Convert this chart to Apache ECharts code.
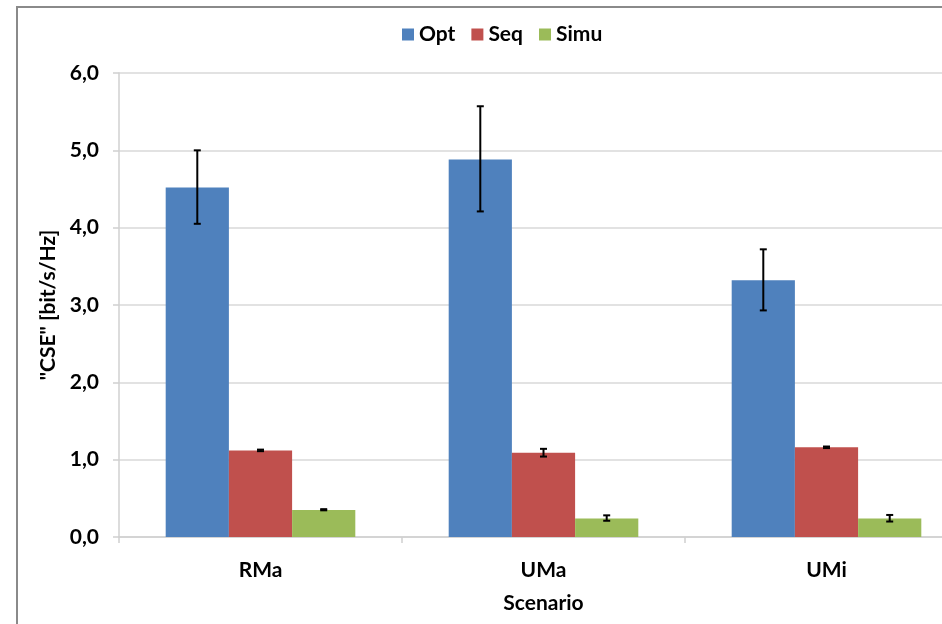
<!DOCTYPE html>
<html>
<head>
<meta charset="utf-8">
<script src="https://cdn.jsdelivr.net/npm/echarts@6/dist/echarts.min.js"></script>
<style>
html,body{margin:0;padding:0;background:#fff;}
#c{width:942px;height:624px;}
</style>
</head>
<body>
<div id="c"></div>
<script>
const categories = ['RMa', 'UMa', 'UMi'];
const seriesNames = ['Opt', 'Seq', 'Simu'];
const optValues = [4.52, 4.88, 3.32];
const seqValues = [1.12, 1.09, 1.16];
const simuValues = [0.35, 0.24, 0.24];
const optLow = [4.05, 4.21, 2.93];
const optHigh = [5.00, 5.57, 3.72];
const seqLow = [1.11, 1.04, 1.15];
const seqHigh = [1.13, 1.14, 1.17];
const simuLow = [0.345, 0.21, 0.20];
const simuHigh = [0.36, 0.28, 0.285];
const yTickLabels = ['0,0', '1,0', '2,0', '3,0', '4,0', '5,0', '6,0'];

const colors = ['#4F81BD', '#C0504D', '#9BBB59'];
const FONT = 'Lato, "Open Sans", sans-serif';
const GAP = 0.33;

function errSeries(si, lows, highs) {
  return {
    type: 'custom',
    name: 'err' + si,
    silent: true,
    z: 10,
    data: lows.map((l, i) => [i, l, highs[i]]),
    renderItem: function (params, api) {
      const idx = api.value(0);
      const top = api.coord([idx, api.value(2)]);
      const bot = api.coord([idx, api.value(1)]);
      const band = api.size([1, 0])[0];
      const bw = band * (1 - GAP) / 3;
      const cx = top[0] + (si - 1) * bw;
      const cap = 3.5;
      const st = { stroke: '#000', lineWidth: 2 };
      return {
        type: 'group',
        children: [
          { type: 'line', shape: { x1: cx, y1: top[1], x2: cx, y2: bot[1] }, style: st },
          { type: 'line', shape: { x1: cx - cap, y1: top[1], x2: cx + cap, y2: top[1] }, style: st },
          { type: 'line', shape: { x1: cx - cap, y1: bot[1], x2: cx + cap, y2: bot[1] }, style: st }
        ]
      };
    }
  };
}

const chart = echarts.init(document.getElementById('c'), null, { renderer: 'canvas' });
const valueLists = [optValues, seqValues, simuValues];

chart.setOption({
  animation: false,
  backgroundColor: '#fff',
  color: colors,
  textStyle: { fontFamily: FONT },
  graphic: [{
    type: 'polyline',
    shape: { points: [[17, 624], [17, 7], [942, 7]] },
    style: { stroke: '#8a8a8a', lineWidth: 2, fill: null },
    silent: true
  }],
  legend: {
    data: seriesNames,
    left: 397,
    top: 19,
    itemWidth: 12,
    itemHeight: 12,
    itemGap: 16,
    icon: 'rect',
    textStyle: { fontFamily: FONT, fontWeight: 'bold', fontSize: 21, color: '#000' }
  },
  grid: { left: 119, top: 73, bottom: 87, width: 849, outerBoundsMode: 'none', containLabel: false },
  xAxis: {
    type: 'category',
    data: categories,
    name: 'Scenario',
    nameLocation: 'middle',
    nameGap: 56,
    nameTextStyle: { fontFamily: FONT, fontWeight: 'bold', fontSize: 21, color: '#000' },
    axisLine: { lineStyle: { color: '#d0d0d0', width: 1.5 } },
    axisTick: { show: true, length: 6, lineStyle: { color: '#d0d0d0', width: 1.5 } },
    axisLabel: { margin: 23, fontFamily: FONT, fontWeight: 'bold', fontSize: 21, color: '#000' }
  },
  yAxis: {
    type: 'value',
    min: 0,
    max: 6,
    interval: 1,
    name: '"CSE" [bit/s/Hz]',
    nameLocation: 'middle',
    nameGap: 55,
    nameTextStyle: { fontFamily: FONT, fontWeight: 'bold', fontSize: 21, color: '#000' },
    axisLine: { show: true, lineStyle: { color: '#d0d0d0', width: 1.5 } },
    axisTick: { show: true, length: 6, lineStyle: { color: '#d0d0d0', width: 1.5 } },
    splitLine: { lineStyle: { color: '#d9d9d9', width: 1.5 } },
    axisLabel: {
      margin: 20,
      fontFamily: FONT, fontWeight: 'bold', fontSize: 21, color: '#000',
      formatter: function (v) { return yTickLabels[Math.round(v)]; }
    }
  },
  series: seriesNames.map((n, i) => ({
    type: 'bar',
    name: n,
    data: valueLists[i],
    barGap: '0%',
    barCategoryGap: (GAP * 100) + '%',
    itemStyle: { color: colors[i] }
  })).concat([
    errSeries(0, optLow, optHigh),
    errSeries(1, seqLow, seqHigh),
    errSeries(2, simuLow, simuHigh)
  ])
});
</script>
</body>
</html>
